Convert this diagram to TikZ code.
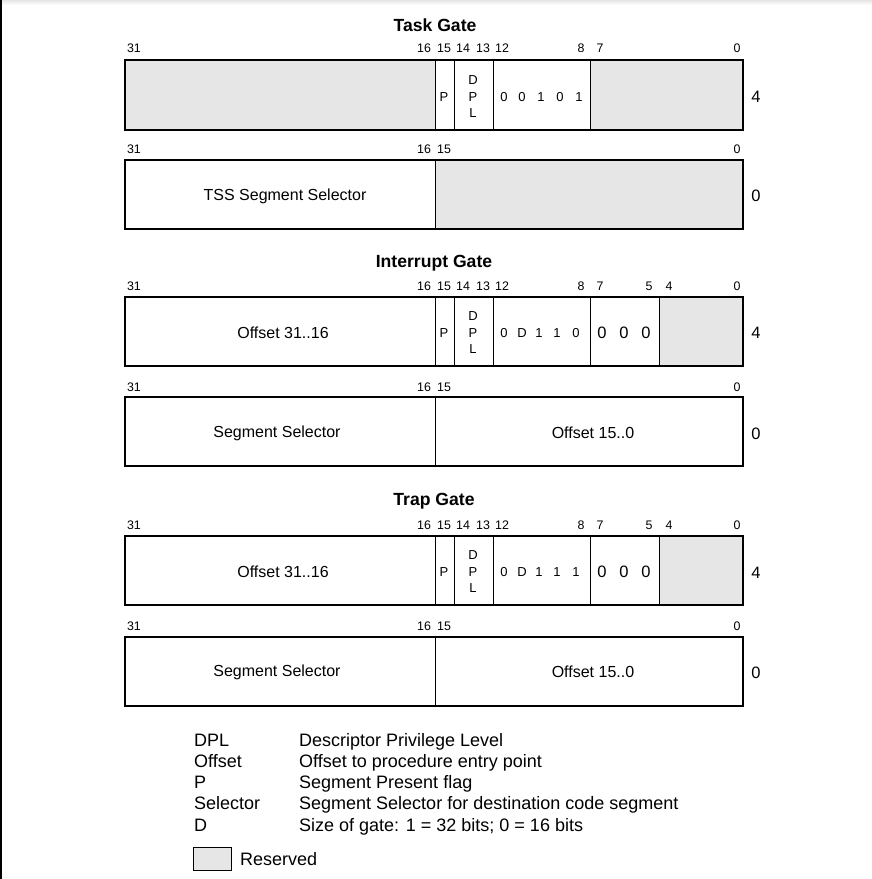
\documentclass[tikz,border=0pt]{standalone}
\usepackage{fontspec}
\setmainfont{Liberation Sans}
\usepackage{tikz}
\usetikzlibrary{positioning}
\definecolor{resgray}{RGB}{230,230,230}
\tikzstyle{word} = [draw, line width=1.6pt]
\tikzstyle{field} = [draw, line width=0.8pt]
\tikzstyle{rsvd} = [fill=resgray]
\tikzstyle{title} = [font=\fontsize{17.6}{20}\selectfont\bfseries, inner sep=0pt]
\tikzstyle{bitno} = [font=\fontsize{12.4}{14}\selectfont, inner sep=0pt]
\tikzstyle{txt} = [font=\fontsize{16}{18}\selectfont, inner sep=0pt]
\tikzstyle{flag} = [font=\fontsize{13}{16.5}\selectfont, inner sep=0pt, align=center]
\tikzstyle{big} = [font=\fontsize{16.5}{18}\selectfont, inner sep=0pt]
\tikzstyle{legend} = [font=\fontsize{18}{20}\selectfont, inner sep=0pt, anchor=base west]

\begin{document}
\begin{tikzpicture}[x=1pt, y=-1pt]
	\useasboundingbox (0,0) rectangle (872,879);
	\fill[white] (0,0) rectangle (872,879);
	\shade[top color=black!10, bottom color=white] (0,0) rectangle (872,5);
	\fill[black] (0,0) rectangle (2,879);

	% Task Gate
	\node (tgtitle) [title] at (435,25) {Task Gate};
	\foreach \b/\x in {31/134,16/424,15/444,14/463,13/483,12/502,8/581,7/600,0/737}
		\node (tga\b) [bitno] at (\x,48) {\b};
	\fill[rsvd] (125,60) rectangle (435,130);
	\fill[rsvd] (590,60) rectangle (743,130);
	\draw[field] (435,60) -- (435,130) (454,60) -- (454,130) (493,60) -- (493,130) (590,60) -- (590,130);
	\draw[word] (125,60) rectangle (743,130);
	\node (tgp) [flag] at (444,97) {P};
	\node (tgdpl) [flag] at (473,97) {D\\P\\L};
	\foreach \v/\x [count=\i] in {0/504,0/522,1/541,0/560,1/579}
		\node (tgt\i) [flag] at (\x,97) {\v};
	\node (tgw1) [big] at (756,97) {4};

	\foreach \b/\x in {31/134,16/424,15/444,0/737}
		\node (tgb\b) [bitno] at (\x,149) {\b};
	\fill[rsvd] (435,160) rectangle (743,229);
	\draw[field] (435,160) -- (435,229);
	\draw[word] (125,160) rectangle (743,229);
	\node (tgsel) [txt] at (285,196) {TSS Segment Selector};
	\node (tgw0) [big] at (756,196) {0};

	% Interrupt Gate
	\node (igtitle) [title] at (434,263) {Interrupt Gate};
	\foreach \b/\x in {31/134,16/424,15/444,14/463,13/483,12/502,8/581,7/600,5/649,4/669,0/737}
		\node (iga\b) [bitno] at (\x,286) {\b};
	\fill[rsvd] (659,297) rectangle (743,366);
	\draw[field] (435,297) -- (435,366) (454,297) -- (454,366) (493,297) -- (493,366) (590,297) -- (590,366) (659,297) -- (659,366);
	\draw[word] (125,297) rectangle (743,366);
	\node (igoff) [txt] at (283,333) {Offset 31..16};
	\node (igp) [flag] at (444,333) {P};
	\node (igdpl) [flag] at (473,333) {D\\P\\L};
	\foreach \v/\x [count=\i] in {0/504,D/522,1/539,1/557,0/576}
		\node (igt\i) [flag] at (\x,333) {\v};
	\foreach \x [count=\i] in {602,624,646}
		\node (igz\i) [big] at (\x,333) {0};
	\node (igw1) [big] at (756,333) {4};

	\foreach \b/\x in {31/134,16/424,15/444,0/737}
		\node (igb\b) [bitno] at (\x,387) {\b};
	\draw[field] (435,397) -- (435,466);
	\draw[word] (125,397) rectangle (743,466);
	\node (igsel) [txt] at (277,433) {Segment Selector};
	\node (igoff0) [txt] at (593,433) {Offset 15..0};
	\node (igw0) [big] at (756,434) {0};

	% Trap Gate
	\node (trtitle) [title] at (434,501) {Trap Gate};
	\foreach \b/\x in {31/134,16/424,15/444,14/463,13/483,12/502,8/581,7/600,5/649,4/669,0/737}
		\node (tra\b) [bitno] at (\x,525) {\b};
	\fill[rsvd] (659,536) rectangle (743,605);
	\draw[field] (435,536) -- (435,605) (454,536) -- (454,605) (493,536) -- (493,605) (590,536) -- (590,605) (659,536) -- (659,605);
	\draw[word] (125,536) rectangle (743,605);
	\node (troff) [txt] at (283,572) {Offset 31..16};
	\node (trp) [flag] at (444,572) {P};
	\node (trdpl) [flag] at (473,572) {D\\P\\L};
	\foreach \v/\x [count=\i] in {0/504,D/522,1/539,1/557,1/576}
		\node (trt\i) [flag] at (\x,572) {\v};
	\foreach \x [count=\i] in {602,624,646}
		\node (trz\i) [big] at (\x,572) {0};
	\node (trw1) [big] at (756,573) {4};

	\foreach \b/\x in {31/134,16/424,15/444,0/737}
		\node (trb\b) [bitno] at (\x,626) {\b};
	\draw[field] (435,637) -- (435,706);
	\draw[word] (125,637) rectangle (743,706);
	\node (trsel) [txt] at (277,672) {Segment Selector};
	\node (troff0) [txt] at (593,672) {Offset 15..0};
	\node (trw0) [big] at (756,673) {0};

	% legend
	\foreach \k/\d/\y [count=\i] in {DPL/Descriptor Privilege Level/746,
		Offset/Offset to procedure entry point/767.25,
		P/Segment Present flag/788.5,
		Selector/Segment Selector for destination code segment/809.75,
		D/{Size of gate: 1 = 32 bits; 0 = 16 bits}/831}
	{
		\node (key\i) [legend] at (194,\y) {\k};
		\node (desc\i) [legend] at (299,\y) {\d};
	}
	\draw[field, rsvd] (193.5,847) rectangle (231,870.5);
	\node (reskey) [legend] at (240,865) {Reserved};
\end{tikzpicture}
\end{document}
